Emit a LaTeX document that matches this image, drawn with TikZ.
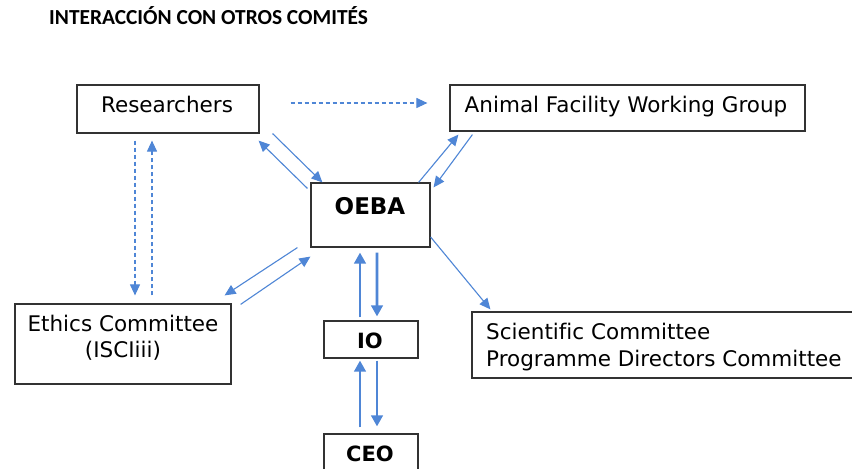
\documentclass[tikz,border=0pt]{standalone}
\usepackage{fontspec}
\setmainfont[Ligatures=NoCommon]{DejaVu Sans}
\newfontfamily\titlefont{Carlito}
\usetikzlibrary{arrows.meta,calc}
\definecolor{arrblue}{RGB}{79,134,214}
\definecolor{boxline}{RGB}{50,50,50}
\tikzset{
  box/.style={draw=boxline, line width=1.2bp, fill=white, inner sep=0pt},
  txt/.style={inner sep=0pt, font=\fontsize{21.5bp}{27bp}\selectfont},
  btxt/.style={inner sep=0pt, font=\fontsize{21bp}{27bp}\selectfont\bfseries},
  thinarr/.style={draw=arrblue, line width=1.1bp, -{Triangle[length=11bp,width=10bp]}, arrblue},
  dasharr/.style={thinarr, dash pattern=on 4bp off 3bp},
  thickarr/.style={draw=arrblue, line width=2.6bp, -{Triangle[length=11bp,width=11.5bp]}, arrblue},
}
\begin{document}
\begin{tikzpicture}[x=1bp,y=-1bp]
\clip (0,0) rectangle (852,469);
\fill[white] (0,0) rectangle (852,469);
% title
\node[inner sep=0pt, anchor=base west, font=\titlefont\bfseries\fontsize{21.4bp}{24bp}\selectfont] (title) at (49,25) {INTERACCIÓN CON OTROS COMITÉS};
% boxes
\node[box, minimum width=182bp, minimum height=48bp] (res) at (168,109) {};
\node[box, minimum width=355bp, minimum height=46bp] (afwg) at (627.5,108) {};
\node[box, minimum width=119bp, minimum height=64bp] (oeba) at (370.5,215) {};
\node[box, minimum width=216bp, minimum height=80bp] (eth) at (123,344) {};
\node[box, minimum width=94bp, minimum height=37bp] (io) at (371,339.5) {};
\node[box, minimum width=94bp, minimum height=50bp] (ceo) at (371,459) {};
\node[box, minimum width=400bp, minimum height=66bp] (sc) at (672,345) {};
% texts
\node[txt, anchor=base] (tres) at (167,113) {Researchers};
\node[txt, anchor=base] (tafwg) at (626,113) {Animal Facility Working Group};
\node[btxt, anchor=base, font=\fontsize{23bp}{27bp}\selectfont\bfseries] (toeba) at (370,215) {OEBA};
\node[txt, anchor=base] (teth1) at (123,332) {Ethics Committee};
\node[txt, anchor=base] (teth2) at (123,358) {(ISCIiii)};
\node[btxt, anchor=base] (tio) at (370,349) {IO};
\node[btxt, anchor=base] (tceo) at (370,461) {CEO};
\node[txt, anchor=base west] (tsc1) at (486,340) {Scientific Committee};
\node[txt, anchor=base west] (tsc2) at (486,366.5) {Programme Directors Committee};
% connectors
\draw[dasharr] ([shift={(31,-6)}]res.east) -- ([shift={(-22,-5)}]afwg.west);
\draw[thinarr] ([shift={(13,0)}]res.south east) -- ([shift={(12,0)}]oeba.north west);
\draw[thinarr] ([shift={(-3,6)}]oeba.north west) -- ([shift={(-1,7)}]res.south east);
\draw[thinarr] ([shift={(-12,0)}]oeba.north east) -- ([shift={(9,3)}]afwg.south west);
\draw[thinarr] ([shift={(23,3)}]afwg.south west) -- ([shift={(3,5)}]oeba.north east);
\draw[dasharr] ([shift={(-33,7)}]res.south) -- ([shift={(12,-8)}]eth.north);
\draw[dasharr] ([shift={(29,-8)}]eth.north) -- ([shift={(-16,7)}]res.south);
\draw[thinarr] ([shift={(-13,0)}]oeba.south west) -- ([shift={(-7,-8)}]eth.north east);
\draw[thinarr] ([shift={(9,1)}]eth.north east) -- ([shift={(0,9)}]oeba.south west);
\draw[thinarr] ([shift={(0,22)}]oeba.east) -- ([shift={(19,-2)}]sc.north west);
\draw[thickarr] ([shift={(-11,-3)}]io.north) -- ([shift={(-10.5,5)}]oeba.south);
\draw[thickarr] ([shift={(6.5,5)}]oeba.south) -- ([shift={(6,-4)}]io.north);
\draw[thickarr] ([shift={(-11,-6)}]ceo.north) -- ([shift={(-11,2)}]io.south);
\draw[thickarr] ([shift={(6,2)}]io.south) -- ([shift={(6,-7)}]ceo.north);
\end{tikzpicture}
\end{document}
